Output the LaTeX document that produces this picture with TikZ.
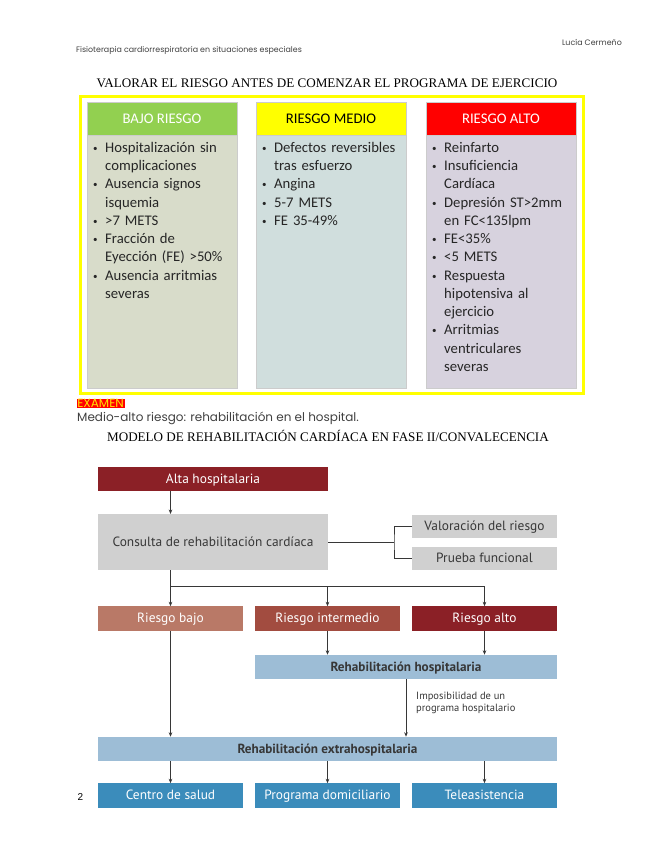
\documentclass[tikz,border=0pt]{standalone}
\usepackage{fontspec}
\usetikzlibrary{arrows.meta,positioning,calc}
\newfontfamily\carlito{Carlito}
\newfontfamily\ptsans{PT Sans}
\newfontfamily\poppins{Poppins}
\newfontfamily\libserif{Liberation Serif}
\definecolor{verdeR}{RGB}{146,208,80}
\definecolor{amarilloR}{RGB}{255,255,0}
\definecolor{rojoR}{RGB}{255,0,0}
\definecolor{cuerpoBajo}{RGB}{216,220,202}
\definecolor{cuerpoMedio}{RGB}{208,222,221}
\definecolor{cuerpoAlto}{RGB}{215,210,222}
\definecolor{granate}{RGB}{139,32,38}
\definecolor{grisCons}{RGB}{208,208,208}
\definecolor{salmon}{RGB}{185,121,103}
\definecolor{teja}{RGB}{162,76,64}
\definecolor{azulClaro}{RGB}{157,189,214}
\definecolor{azulFuerte}{RGB}{59,140,187}
\definecolor{textoGris}{RGB}{55,55,55}
\newcommand{\punto}[1]{\par\raggedright\hangindent=12pt\hangafter=1\noindent\makebox[12pt][l]{\raisebox{1pt}{\fontsize{9}{9}\selectfont\textbullet}}#1\par}

\begin{document}
\begin{tikzpicture}[x=1pt,y=-1pt]
  \tikzset{
    pagina/.style={inner sep=0pt,font=\poppins\fontsize{7.9}{9}\selectfont,text=black!75},
    titulo/.style={inner sep=0pt,font=\libserif\fontsize{13.1}{15}\selectfont},
    cabecera/.style={draw=black!20,minimum width=150pt,minimum height=33pt,inner sep=0pt,outer sep=0pt,font=\carlito\fontsize{14.7}{16}\selectfont},
    cuerpo/.style={draw=black!20,minimum width=150pt,minimum height=253pt,inner sep=0pt,outer sep=0pt},
    lista/.style={anchor=north west,inner sep=0pt,text width=145pt,font=\carlito\fontsize{14.7}{18.25}\selectfont,text=black!85},
    caja/.style={minimum height=24.5pt,inner sep=0pt,outer sep=0pt,text height=10.5pt,text depth=1.8pt,font=\ptsans\fontsize{13.4}{15}\selectfont},
    oscura/.style={caja,text=white},
    clara/.style={caja,text=textoGris},
    negrita/.style={clara,font=\ptsans\bfseries\fontsize{13.2}{15}\selectfont},
    nota/.style={inner sep=0pt,align=left,font=\ptsans\fontsize{10.5}{12.5}\selectfont,text=textoGris},
    linea/.style={draw=textoGris,line width=0.8pt},
    flecha/.style={linea,-{Stealth[length=4.5pt,width=3.6pt]}}
  }
  \useasboundingbox (0,0) rectangle (655,848);

  \node[pagina,anchor=west] (asignatura) at (76,51) {Fisioterapia cardiorrespiratoria en situaciones especiales};
  \node[pagina,anchor=east] (autora) at (622,42) {Lucía Cermeño};
  \node[titulo] (titulo1) at (327,83) {VALORAR EL RIESGO ANTES DE COMENZAR EL PROGRAMA DE EJERCICIO};

  \draw[amarilloR,line width=3pt] (80,97) rectangle (583,393);

  \node[cabecera,fill=verdeR,text=white] (bajoH) at (162,118.5) {BAJO RIESGO};
  \node[cabecera,fill=amarilloR,right=19pt of bajoH] (medioH) {RIESGO MEDIO};
  \node[cabecera,fill=rojoR,text=white,right=20pt of medioH] (altoH) {RIESGO ALTO};
  \node[cuerpo,fill=cuerpoBajo,below=0pt of bajoH] (bajoC) {};
  \node[cuerpo,fill=cuerpoMedio,below=0pt of medioH] (medioC) {};
  \node[cuerpo,fill=cuerpoAlto,below=0pt of altoH] (altoC) {};

  \node[lista] (bajoL) at ([xshift=6pt,yshift=1pt]bajoC.north west) {%
    \punto{Hospitalización sin\newline complicaciones}
    \punto{Ausencia signos\newline isquemia}
    \punto{>7 METS}
    \punto{Fracción de\newline Eyección (FE) >50\%}
    \punto{Ausencia arritmias\newline severas}};
  \node[lista] (medioL) at ([xshift=6pt,yshift=1pt]medioC.north west) {%
    \punto{Defectos reversibles\newline tras esfuerzo}
    \punto{Angina}
    \punto{5-7 METS}
    \punto{FE 35-49\%}};
  \node[lista] (altoL) at ([xshift=6pt,yshift=1pt]altoC.north west) {%
    \punto{Reinfarto}
    \punto{Insuficiencia\newline Cardíaca}
    \punto{Depresión ST>2mm\newline en FC<135lpm}
    \punto{FE<35\%}
    \punto{<5 METS}
    \punto{Respuesta\newline hipotensiva al\newline ejercicio}
    \punto{Arritmias\newline ventriculares\newline severas}};

  \node[anchor=west,fill=rojoR,text=yellow!85!orange,inner sep=0.6pt,font=\poppins\fontsize{12}{13}\selectfont] (examen) at (76.5,403.5) {EXAMEN};
  \node[pagina,anchor=west,font=\poppins\fontsize{12}{13}\selectfont] (nota1) at (77,418.5) {Medio-alto riesgo: rehabilitación en el hospital.};
  \node[titulo] (titulo2) at (328,436) {MODELO DE REHABILITACIÓN CARDÍACA EN FASE II/CONVALECENCIA};

  \node[oscura,fill=granate,minimum width=230pt] (alta) at (213,479) {Alta hospitalaria};
  \node[clara,fill=grisCons,minimum width=230pt,minimum height=56pt] (consulta) at (213,542) {Consulta de rehabilitación cardíaca};
  \node[clara,fill=grisCons,minimum width=145pt,minimum height=23pt] (valor) at (484.5,526.5) {Valoración del riesgo};
  \node[clara,fill=grisCons,minimum width=145pt,minimum height=23pt] (prueba) at (484.5,558.5) {Prueba funcional};
  \node[oscura,fill=salmon,minimum width=145pt] (rbajo) at (170.5,618.5) {Riesgo bajo};
  \node[oscura,fill=teja,minimum width=145pt] (rmedio) at (327.5,618.5) {Riesgo intermedio};
  \node[oscura,fill=granate,minimum width=145pt] (ralto) at (484.5,618.5) {Riesgo alto};
  \node[negrita,fill=azulClaro,minimum width=302pt] (rhosp) at (406,667) {Rehabilitación hospitalaria};
  \node[negrita,fill=azulClaro,minimum width=459pt] (rextra) at (327.5,749) {Rehabilitación extrahospitalaria};
  \node[oscura,fill=azulFuerte,minimum width=145pt] (centro) at (170.5,795.5) {Centro de salud};
  \node[oscura,fill=azulFuerte,minimum width=145pt] (domic) at (327.5,795.5) {Programa domiciliario};
  \node[oscura,fill=azulFuerte,minimum width=145pt] (tele) at (484.5,795.5) {Teleasistencia};
  \node[nota,anchor=west] (imposible) at (416,703) {Imposibilidad de un\\programa hospitalario};
  \node[inner sep=0pt,font=\fontspec{Liberation Sans}\fontsize{10}{12}\selectfont] (pagnum) at (80.5,797) {2};

  \coordinate (fork) at (394,542);
  \coordinate (split) at (0,586);

  \draw[flecha] (alta.south -| rbajo) -- (consulta.north -| rbajo);
  \draw[linea] (consulta.east) -- (fork);
  \draw[linea] (valor.west) -| (fork) |- (prueba.west);
  \draw[linea] (consulta.south -| rbajo) -- (split -| rbajo) -- (split -| ralto);
  \foreach \n in {rbajo,rmedio,ralto} \draw[flecha] (split -| \n) -- (\n.north);
  \foreach \n in {rmedio,ralto} \draw[flecha] (\n.south) -- (rhosp.north -| \n);
  \draw[flecha] (rbajo.south) -- (rextra.north -| rbajo);
  \draw[flecha] (rhosp.south) -- (rextra.north -| rhosp);
  \foreach \n in {centro,domic,tele} \draw[flecha] (rextra.south -| \n) -- (\n.north);
\end{tikzpicture}
\end{document}
